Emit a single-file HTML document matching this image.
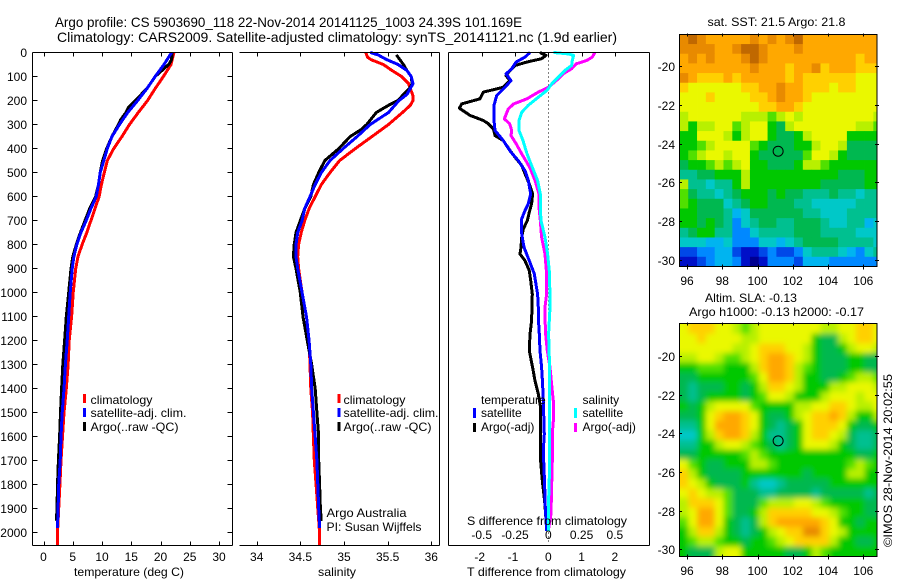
<!DOCTYPE html>
<html>
<head>
<meta charset="utf-8">
<title>Argo profile</title>
<style>
html,body{margin:0;padding:0;background:#fff;}
svg{display:block;font-family:"Liberation Sans",sans-serif;font-size:12px;fill:#000;}
.t{font-size:12px;}
</style>
</head>
<body>
<svg id="fig" width="900" height="580" viewBox="0 0 900 580" xmlns="http://www.w3.org/2000/svg">
<defs>
<clipPath id="clipMap1"><rect x="679.5" y="34.5" width="197.5" height="232"/></clipPath>
<clipPath id="clipMap2"><rect x="679.5" y="323.5" width="197.5" height="233"/></clipPath>
<filter id="smooth" filterUnits="userSpaceOnUse" x="660" y="300" width="240" height="280"><feGaussianBlur stdDeviation="2.8"/></filter>
</defs>
<text x="55" y="27" font-size="14" textLength="467" lengthAdjust="spacingAndGlyphs">Argo profile: CS 5903690_118 22-Nov-2014 20141125_1003 24.39S 101.169E</text>
<text x="57" y="42" font-size="14" textLength="560" lengthAdjust="spacingAndGlyphs">Climatology: CARS2009. Satellite-adjusted climatology: synTS_20141121.nc (1.9d earlier)</text>

<g id="gP1"></g>
<g id="gP2"></g>
<g id="gP3"></g>
<g id="gM1"></g>
<g id="gM2"></g>

<text x="74" y="576" textLength="110" lengthAdjust="spacingAndGlyphs">temperature (deg C)</text>
<text x="318" y="576" textLength="38" lengthAdjust="spacingAndGlyphs">salinity</text>
<text x="467" y="576" textLength="159" lengthAdjust="spacingAndGlyphs">T difference from climatology</text>
<text x="467" y="525" textLength="160" lengthAdjust="spacingAndGlyphs">S difference from climatology</text>

<g>
<rect x="83" y="394" width="3" height="9" fill="#f00"/>
<text x="90.5" y="404" textLength="62" lengthAdjust="spacingAndGlyphs">climatology</text>
<rect x="83" y="408" width="3" height="9" fill="#00f"/>
<text x="90.5" y="417" textLength="96" lengthAdjust="spacingAndGlyphs">satellite-adj. clim.</text>
<rect x="83" y="422" width="3" height="9" fill="#000"/>
<text x="90.5" y="431" textLength="88" lengthAdjust="spacingAndGlyphs">Argo(..raw -QC)</text>
</g>
<g>
<rect x="337.5" y="394" width="3" height="9" fill="#f00"/>
<text x="343.5" y="404" textLength="62" lengthAdjust="spacingAndGlyphs">climatology</text>
<rect x="337.5" y="408" width="3" height="9" fill="#00f"/>
<text x="343.5" y="417" textLength="95" lengthAdjust="spacingAndGlyphs">satellite-adj. clim.</text>
<rect x="337.5" y="422" width="3" height="9" fill="#000"/>
<text x="343.5" y="431" textLength="88" lengthAdjust="spacingAndGlyphs">Argo(..raw -QC)</text>
</g>
<text x="326.5" y="517" textLength="80" lengthAdjust="spacingAndGlyphs">Argo Australia</text>
<text x="326.5" y="531" textLength="95" lengthAdjust="spacingAndGlyphs">PI: Susan Wijffels</text>

<g id="legend3"></g>

<text x="707.5" y="26" textLength="138" lengthAdjust="spacingAndGlyphs">sat. SST: 21.5 Argo: 21.8</text>
<text x="705" y="302" textLength="92" lengthAdjust="spacingAndGlyphs">Altim. SLA: -0.13</text>
<text x="689" y="316" textLength="175" lengthAdjust="spacingAndGlyphs">Argo h1000: -0.13 h2000: -0.17</text>
<text transform="translate(892 547) rotate(-90)" textLength="173" lengthAdjust="spacingAndGlyphs">©IMOS 28-Nov-2014 20:02:55</text>
</svg>

<script>
/* ---------- depth ticks / axis tick labels ---------- */
var depthTicks = [0,100,200,300,400,500,600,700,800,900,1000,1100,1200,1300,1400,1500,1600,1700,1800,1900,2000];
var tempTicks = [0,5,10,15,20,25,30];
var salTicks = [34,34.5,35,35.5,36];
var dTTicks = [-2,-1,0,1,2];
var dSTicks = [-0.5,-0.25,0,0.25,0.5];
var dSTickLabels = ['-0.5','-0.25','0','0.25','0.5'];
var lonTicks = [96,98,100,102,104,106];
var latTicks = [20,22,24,26,28,30];

/* ---------- temperature profiles ---------- */
var tempClimDepth = [0,50,100,150,200,250,300,350,400,450,500,550,600,650,700,750,800,850,900,1000,1100,1200,1300,1400,1500,1600,1700,1800,1900,2000,2050];
var tempClim = [22.3,21.8,20.5,19.1,17.8,16.2,14.7,13.4,12.0,10.9,10.4,9.9,9.5,8.8,8.1,7.4,6.6,5.9,5.5,5.07,4.8,4.4,4.2,3.9,3.5,3.25,3.0,2.8,2.6,2.4,2.4];
var tempSatDepth = [0,50,100,150,200,250,300,350,400,450,500,550,600,650,700,750,800,850,900,1000,1100,1200,1300,1400,1500,1600,1700,1800,1900,1980];
var tempSat = [21.9,20.6,19.1,17.7,16.1,14.4,13.0,11.7,10.9,10.3,9.7,9.4,9.0,8.1,7.3,6.4,5.7,5.2,4.9,4.56,4.3,4.05,3.75,3.5,3.2,3.0,2.85,2.6,2.5,2.4];
var tempArgoDepth = [0,30,50,100,150,200,230,250,280,300,350,400,450,500,550,600,650,700,750,800,850,900,1000,1100,1200,1300,1400,1500,1600,1700,1800,1900,1950];
var tempArgo = [22,21.9,21.4,19.1,17.7,15.7,14.5,14.1,13.2,12.8,11.7,10.8,10.1,9.7,9.4,8.9,7.9,7.1,6.3,5.6,5.0,4.7,4.3,3.9,3.6,3.3,3.1,2.9,2.75,2.55,2.4,2.3,2.2];

/* ---------- salinity profiles ---------- */
var salClimDepth = [0,20,30,50,75,100,130,150,180,200,220,250,300,350,400,450,500,550,600,650,700,750,800,850,900,1000,1100,1200,1300,1400,1500,1600,1700,1800,1900,2000,2050];
var salClim = [35.25,35.27,35.31,35.45,35.55,35.66,35.74,35.76,35.79,35.79,35.76,35.67,35.51,35.32,35.13,34.95,34.84,34.74,34.67,34.6,34.55,34.51,34.48,34.47,34.48,34.52,34.57,34.6,34.61,34.62,34.64,34.65,34.66,34.68,34.7,34.72,34.72];
var salSatDepth = [0,10,30,50,75,100,130,150,175,200,250,300,350,400,450,500,550,600,650,700,750,800,850,900,1000,1100,1200,1300,1400,1500,1600,1700,1800,1900,1980];
var salSat = [35.3,35.39,35.49,35.62,35.72,35.77,35.79,35.76,35.72,35.63,35.51,35.3,35.15,34.99,34.84,34.74,34.67,34.61,34.55,34.52,34.47,34.45,34.45,34.47,34.52,34.57,34.6,34.62,34.63,34.65,34.67,34.69,34.7,34.71,34.72];
var salArgoDepth = [10,30,50,75,100,130,150,175,200,220,250,300,320,350,400,450,500,550,600,650,700,750,800,850,900,1000,1100,1200,1300,1400,1500,1600,1700,1800,1900,1950];
var salArgo = [35.6,35.64,35.68,35.72,35.77,35.78,35.75,35.68,35.62,35.51,35.37,35.26,35.2,35.07,34.94,34.78,34.71,34.65,34.62,34.55,34.5,34.45,34.43,34.42,34.45,34.5,34.53,34.58,34.63,34.67,34.69,34.71,34.71,34.72,34.73,34.74];

/* ---------- differences from climatology ---------- */
var dTArgoDepth = [0,12,26,40,54,75,96,117,145,165,193,214,232,262,283,297,318,346,367,408,436,470,505,547,589,630,665,700,735,769,811,839,867,908,950,1006,1117,1172,1242,1311,1367,1422,1478,1589,1700,1783,1867,1978];
var dTArgo = [-0.25,-0.07,-0.2,-0.65,-1.0,-1.15,-1.27,-1.15,-1.35,-1.95,-2.05,-2.6,-2.67,-2.35,-1.95,-1.8,-1.65,-1.6,-1.35,-1.15,-1.0,-0.8,-0.7,-0.57,-0.47,-0.5,-0.57,-0.63,-0.75,-0.8,-0.82,-0.85,-0.7,-0.57,-0.53,-0.48,-0.5,-0.55,-0.57,-0.47,-0.4,-0.3,-0.23,-0.23,-0.23,-0.18,-0.11,-0.05];
var dTSatDepth = [0,19,40,68,89,117,145,179,220,283,325,367,415,450,492,533,589,630,658,693,755,811,867,922,1006,1061,1103,1172,1242,1311,1381,1450,1589,1658,1797,1894,1992];
var dTSat = [-0.55,-0.7,-0.97,-1.1,-1.27,-1.12,-1.3,-1.55,-1.63,-1.63,-1.6,-1.35,-1.12,-0.9,-0.7,-0.6,-0.53,-0.6,-0.7,-0.8,-0.8,-0.73,-0.57,-0.42,-0.32,-0.3,-0.3,-0.27,-0.25,-0.2,-0.17,-0.15,-0.12,-0.15,-0.11,-0.09,-0.05];
var dSArgoDepth = [0,19,33,47,68,89,117,145,165,193,214,235,262,276,297,325,346,381,422,478,533,589,644,700,769,839,922,1006,1061,1103,1172,1242,1311,1381,1450,1519,1589,1700,1811,1922,1992];
var dSArgo = [0.35,0.33,0.29,0.21,0.175,0.11,0.06,0,-0.075,-0.16,-0.26,-0.3,-0.32,-0.33,-0.29,-0.275,-0.28,-0.24,-0.2,-0.14,-0.1,-0.07,-0.07,-0.06,-0.05,-0.025,-0.0125,-0.0125,-0.025,-0.025,-0.02,-0.0075,0.0125,0.025,0.0375,0.04,0.03,0.03,0.025,0.02,0];
var dSSatDepth = [0,6,12,33,54,75,103,131,158,186,220,249,283,325,367,422,478,533,589,644,700,769,839,922,1061,1172,1311,1450,1589,1728,1867,1992];
var dSSat = [0.04,0.15,0.19,0.18,0.175,0.125,0.075,0.025,-0.01,-0.075,-0.15,-0.2,-0.22,-0.22,-0.19,-0.16,-0.12,-0.08,-0.06,-0.06,-0.055,-0.025,-0.005,0.01,0.0125,0.0025,0.01,0.01,0.01,0.01,0.0025,0];

/* ---------- argo float position ---------- */
var floatLon = [101.169];
var floatLat = [24.39];

/* ---------- map colour levels (0 = coldest/lowest ... 15 = warmest/highest), half-degree cells ---------- */
var sstLevels = [
[14,15,14,13,13,13,13,13,14,13,14,13,14,15,13,13,13,13,13,13,13,13,13],
[14,14,14,14,13,13,14,15,15,14,13,13,13,14,13,13,13,13,13,13,13,13,13],
[13,14,13,14,13,13,13,14,15,14,13,13,13,13,13,13,13,13,13,13,12,13,13],
[13,13,13,13,13,13,13,13,14,13,13,13,12,13,13,14,12,13,13,13,12,12,12],
[14,13,12,12,12,13,12,13,13,13,13,13,12,13,12,12,12,12,12,12,11,11,11],
[12,11,11,11,11,11,11,12,12,13,13,14,13,13,12,12,12,11,12,12,11,11,11],
[11,11,11,12,11,11,11,11,12,12,13,14,13,13,12,11,11,11,11,11,11,11,11],
[11,11,11,11,11,11,11,11,11,12,12,13,13,12,11,11,11,11,11,11,11,11,11],
[10,11,11,11,11,11,11,10,10,10,9,10,11,10,11,11,11,11,11,11,11,11,10],
[10,8,10,10,11,11,9,10,11,11,8,7,10,11,11,11,11,11,11,11,10,10,9],
[8,8,11,11,11,10,8,10,11,11,8,7,7,8,10,11,11,11,11,8,8,8,8],
[8,8,9,10,11,11,11,11,9,8,7,7,7,8,8,10,11,11,10,7,7,7,7],
[8,9,10,11,11,10,11,11,8,7,7,7,7,7,9,11,11,10,8,7,7,7,7],
[7,8,8,9,10,9,10,11,8,8,7,7,7,8,10,10,9,8,8,8,8,8,8],
[6,6,7,7,8,8,8,10,8,8,8,8,8,8,8,8,8,8,7,7,7,8,8],
[10,6,6,5,6,6,8,10,8,8,8,8,8,8,8,8,7,7,7,7,7,8,8],
[9,7,6,6,5,6,7,8,8,8,7,8,7,7,6,6,6,7,6,6,5,6,6],
[9,8,7,7,7,5,6,7,8,8,7,7,7,6,6,5,5,5,5,5,6,6,6],
[8,8,7,7,7,6,4,5,7,7,7,7,7,7,6,6,5,5,5,6,6,6,6],
[8,8,7,8,7,6,3,5,6,7,7,6,6,7,7,7,6,5,5,6,6,4,5],
[6,7,8,8,6,6,3,3,5,6,6,6,6,7,7,7,6,6,6,6,5,5,5],
[5,5,5,4,4,5,3,3,3,5,5,4,5,6,7,7,7,7,6,6,6,6,5],
[2,2,3,3,4,4,2,1,1,2,3,2,2,3,5,6,6,6,5,4,3,5,6],
[1,1,2,3,4,4,3,1,0,1,3,3,3,2,4,4,4,3,3,3,3,3,3]
];
var slaLevels = [
[11,12,12,12,11,11,10,9,10,11,11,11,11,11,11,11,10,10,11,11,12,12,11],
[11,11,12,11,11,11,11,10,10,11,11,11,11,11,11,8,7,7,10,11,12,12,11],
[11,11,11,11,11,11,10,10,11,12,12,12,11,11,10,8,7,7,8,10,11,11,10],
[10,10,11,11,10,9,9,10,11,12,13,13,12,11,10,8,7,7,7,8,8,7,7],
[8,8,9,9,9,8,8,8,10,12,13,13,12,10,9,8,7,7,7,8,8,7,7],
[7,7,8,8,8,8,8,8,9,11,13,13,12,10,8,8,7,7,8,9,10,10,9],
[7,6,7,7,7,8,8,7,8,10,12,12,11,10,8,8,8,10,10,11,11,11,10],
[7,6,7,8,8,8,8,7,8,9,11,11,10,8,8,8,10,11,11,11,10,11,11],
[8,7,8,10,11,11,11,11,9,8,8,8,8,10,10,11,11,12,12,11,10,10,11],
[7,7,8,11,12,13,13,12,11,8,7,7,8,10,11,12,12,13,12,10,8,8,10],
[6,6,8,11,13,13,13,12,11,8,7,6,7,8,11,12,12,12,11,8,7,7,8],
[5,5,8,10,12,13,13,12,10,8,6,6,7,8,11,12,12,11,10,7,6,6,7],
[6,6,8,8,10,11,11,10,9,8,7,6,7,8,11,11,11,10,8,7,6,6,7],
[7,7,8,8,8,8,8,9,10,9,8,8,8,8,8,8,8,8,8,8,7,7,8],
[11,9,8,7,7,8,8,8,10,10,9,8,8,8,8,8,8,8,8,9,10,9,8],
[12,10,8,7,7,7,7,8,8,8,8,8,8,8,7,8,8,8,8,10,10,8,8],
[12,11,10,8,7,7,7,8,6,5,5,6,7,7,7,7,7,8,8,8,8,8,8],
[11,12,11,10,10,9,7,7,7,6,6,7,7,7,7,6,7,7,7,7,7,6,7],
[10,12,12,12,11,9,7,7,7,9,10,10,10,11,11,10,9,8,8,8,8,7,7],
[10,11,13,13,11,9,7,7,8,10,12,12,12,12,12,11,11,10,9,8,8,7,7],
[9,11,13,13,11,8,7,6,7,10,12,13,13,13,13,13,12,11,8,8,7,8,8],
[8,10,12,12,10,8,7,6,7,8,10,11,12,12,14,14,12,11,10,8,8,8,8],
[8,9,10,10,9,8,8,7,8,8,9,10,11,12,12,12,12,10,8,8,7,7,8],
[8,7,7,7,10,11,11,8,8,8,8,8,7,7,8,10,9,8,8,8,8,8,8]
];
var levelColors = ['#000090','#0010c8','#0048e8','#0088ff','#00b4f0','#00c8c8','#00c090','#00b850','#00c800','#50e000','#b8f000','#eaf800','#ffd000','#ffa800','#e88a00','#c06800'];

/* ---------- helpers ---------- */
var NS = 'http://www.w3.org/2000/svg';
function make(tag, attrs, parent, name){
  var el = document.createElementNS(NS, tag);
  for (var k in attrs) el.setAttribute(k, attrs[k]);
  
  
  parent.appendChild(el);
  return el;
}
function seg(p, x1, y1, x2, y2, name){
  return make('line', {x1:x1,y1:y1,x2:x2,y2:y2,stroke:'#000','stroke-width':1,'shape-rendering':'crispEdges'}, p, name);
}
function label(p, str, x, y, anchor, name){
  var t = make('text', {x:x,y:y,'text-anchor':anchor}, p, name);
  t.textContent = str;
  return t;
}
function fmt(v){ return String(v); }
function profile(p, xs, depths, xScale, yScale, color, name){
  var pts = [];
  for (var i = 0; i < xs.length; i++) pts.push(xScale(xs[i]).toFixed(1) + ',' + yScale(depths[i]).toFixed(1));
  return make('polyline', {points:pts.join(' '),fill:'none',stroke:color,'stroke-width':3,'stroke-linejoin':'round','shape-rendering':'crispEdges'}, p, name);
}

/* ---------- scales ---------- */
function yDepth(d){ return 52.5 + d * 0.24015; }
function xTemp(t){ return 43.5 + t * 5.85; }
function xSal(s){ return 256.7 + (s - 34) * 87.3; }
function xDT(t){ return 548.3 + t * 33.3; }
function xDS(s){ return 548.3 + s * 133.2; }
function xLon(lon){ return 687 + (lon - 96) * 17.63; }
function yLat1(lat){ return 66.3 + (lat - 20) * 19.34; }
function yLat2(lat){ return 356 + (lat - 20) * 19.33; }

var plotTop = 52.5, plotBottom = 545.5;

/* ---------- temperature panel ---------- */
var p1 = document.getElementById('gP1');
profile(p1, tempClim, tempClimDepth, xTemp, yDepth, '#f00', 'temperature-climatology-line');
profile(p1, tempArgo, tempArgoDepth, xTemp, yDepth, '#000', 'temperature-argo-line');
profile(p1, tempSat, tempSatDepth, xTemp, yDepth, '#00f', 'temperature-satellite-line');
seg(p1, 32.5, plotTop, 232.5, plotTop, 'temperature-top-axis');
seg(p1, 32.5, plotBottom, 232.5, plotBottom, 'temperature-bottom-axis');
seg(p1, 32.5, plotTop, 32.5, plotBottom, 'depth-axis');
seg(p1, 232.5, plotTop, 232.5, plotBottom, 'temperature-right-axis');
depthTicks.forEach(function(d){
  var y = Math.round(yDepth(d) - 0.5) + 0.5;
  seg(p1, 32.5, y, 37.5, y, 'depth-tick');
  seg(p1, 227.5, y, 232.5, y, 'depth-tick-right');
  label(p1, fmt(d), 27, y + 4.5, 'end', 'depth-tick-label');
});
tempTicks.forEach(function(t){
  var x = Math.round(xTemp(t)) + 0.5;
  seg(p1, x, plotTop, x, plotTop + 4, 'temperature-tick-top');
  seg(p1, x, plotBottom - 4, x, plotBottom, 'temperature-tick-bottom');
  label(p1, fmt(t), xTemp(t), 561, 'middle', 'temperature-tick-label');
});

/* ---------- salinity panel ---------- */
var p2 = document.getElementById('gP2');
profile(p2, salClim, salClimDepth, xSal, yDepth, '#f00', 'salinity-climatology-line');
profile(p2, salArgo, salArgoDepth, xSal, yDepth, '#000', 'salinity-argo-line');
profile(p2, salSat, salSatDepth, xSal, yDepth, '#00f', 'salinity-satellite-line');
seg(p2, 239.5, plotTop, 439.5, plotTop, 'salinity-top-axis');
seg(p2, 239.5, plotBottom, 439.5, plotBottom, 'salinity-bottom-axis');
seg(p2, 439.5, plotTop, 439.5, plotBottom, 'salinity-right-axis');
salTicks.forEach(function(s){
  var x = Math.round(xSal(s)) + 0.5;
  seg(p2, x, plotTop, x, plotTop + 4, 'salinity-tick-top');
  seg(p2, x, plotBottom - 4, x, plotBottom, 'salinity-tick-bottom');
  label(p2, fmt(s), xSal(s), 561, 'middle', 'salinity-tick-label');
});

/* ---------- difference panel ---------- */
var p3 = document.getElementById('gP3');
make('line', {x1:548.5,y1:plotTop,x2:548.5,y2:yDepth(2040),stroke:'#000','stroke-width':1,'stroke-dasharray':'1 3','shape-rendering':'crispEdges'}, p3, 'zero-difference-line');
profile(p3, dTArgo, dTArgoDepth, xDT, yDepth, '#000', 'temperature-difference-argo-line');
profile(p3, dTSat, dTSatDepth, xDT, yDepth, '#00f', 'temperature-difference-satellite-line');
profile(p3, dSArgo, dSArgoDepth, xDS, yDepth, '#f0f', 'salinity-difference-argo-line');
profile(p3, dSSat, dSSatDepth, xDS, yDepth, '#0ff', 'salinity-difference-satellite-line');
seg(p3, 448.5, plotTop, 649.5, plotTop, 'difference-top-axis');
seg(p3, 448.5, plotBottom, 649.5, plotBottom, 'difference-bottom-axis');
seg(p3, 448.5, plotTop, 448.5, plotBottom, 'difference-left-axis');
seg(p3, 649.5, plotTop, 649.5, plotBottom, 'difference-right-axis');
dTTicks.forEach(function(t){
  var x = Math.round(xDT(t)) + 0.5;
  seg(p3, x, plotTop, x, plotTop + 4, 'difference-tick-top');
  label(p3, fmt(t), xDT(t) - (t < 0 ? 2 : 0), 561, 'middle', 't-difference-tick-label');
});
dSTicks.forEach(function(s, i){
  label(p3, dSTickLabels[i], xDS(s), 539, 'middle', 's-difference-tick-label');
});

/* ---------- difference legend ---------- */
var lg = document.getElementById('legend3');
label(lg, 'temperature', 481, 404, 'start', 'legend-heading-temperature');
make('rect', {x:473,y:408,width:3,height:10,fill:'#00f'}, lg, 'legend-swatch-t-satellite');
label(lg, 'satellite', 481, 417, 'start', 'legend-entry-t-satellite');
make('rect', {x:473,y:423,width:3,height:9,fill:'#000'}, lg, 'legend-swatch-t-argo');
label(lg, 'Argo(-adj)', 481, 431, 'start', 'legend-entry-t-argo');
label(lg, 'salinity', 582.5, 404, 'start', 'legend-heading-salinity');
make('rect', {x:574,y:408,width:3,height:10,fill:'#0ff'}, lg, 'legend-swatch-s-satellite');
label(lg, 'satellite', 582.5, 417, 'start', 'legend-entry-s-satellite');
make('rect', {x:574,y:423,width:3,height:9,fill:'#f0f'}, lg, 'legend-swatch-s-argo');
label(lg, 'Argo(-adj)', 582.5, 431, 'start', 'legend-entry-s-argo');

/* ---------- maps ---------- */
var cellDeg = 0.5, firstLon = 95.57, firstLat = 18.35;
function drawCells(parent, levels, yLat, extend){
  levels.forEach(function(row, r){
    row.forEach(function(level, c){
      var x0 = xLon(firstLon + c * cellDeg), x1 = xLon(firstLon + (c + 1) * cellDeg);
      var y0 = yLat(firstLat + r * cellDeg), y1 = yLat(firstLat + (r + 1) * cellDeg);
      if (extend) {
        if (c === 0) x0 -= 12;
        if (c === row.length - 1) x1 += 12;
        if (r === 0) y0 -= 12;
        if (r === levels.length - 1) y1 += 12;
      }
      make('rect', {x:x0.toFixed(2),y:y0.toFixed(2),width:(x1 - x0 + 0.4).toFixed(2),height:(y1 - y0 + 0.4).toFixed(2),fill:levelColors[level]}, parent, 'map-cell');
    });
  });
}
function drawMap(root, levels, yLat, yTop, yBot, xLabelY, clipId, smooth, mapName){
  var clip = make('g', {'clip-path':'url(#' + clipId + ')'}, root, mapName + '-image');
  var cells = clip;
  if (smooth) cells = make('g', {filter:'url(#smooth)'}, clip, mapName + '-smoothed-field');
  drawCells(cells, levels, yLat, smooth);
  make('rect', {x:679.5,y:yTop,width:197.5,height:yBot - yTop,fill:'none',stroke:'#000','stroke-width':1,'shape-rendering':'crispEdges'}, root, mapName + '-frame');
  lonTicks.forEach(function(lon){
    var x = Math.round(xLon(lon)) + 0.5;
    seg(root, x, yTop - 1, x, yTop + 2, mapName + '-lon-tick');
    seg(root, x, yBot - 2, x, yBot + 3, mapName + '-lon-tick');
    label(root, fmt(lon), xLon(lon), xLabelY, 'middle', mapName + '-lon-label');
  });
  latTicks.forEach(function(lat){
    var y = Math.round(yLat(lat)) + 0.5;
    seg(root, 679, y, 682, y, mapName + '-lat-tick');
    seg(root, 875, y, 879, y, mapName + '-lat-tick');
    label(root, '-' + lat, 675, y + 4.5, 'end', mapName + '-lat-label');
  });
  floatLon.forEach(function(lon, i){
    make('circle', {cx:xLon(lon),cy:yLat(floatLat[i]),r:5,fill:'none',stroke:'#000','stroke-width':1}, root, mapName + '-float-marker');
  });
}
drawMap(document.getElementById('gM1'), sstLevels, yLat1, 34.5, 266.5, 285, 'clipMap1', false, 'sst-map');
drawMap(document.getElementById('gM2'), slaLevels, yLat2, 323.5, 556.5, 575, 'clipMap2', true, 'sla-map');
</script>
</body>
</html>
